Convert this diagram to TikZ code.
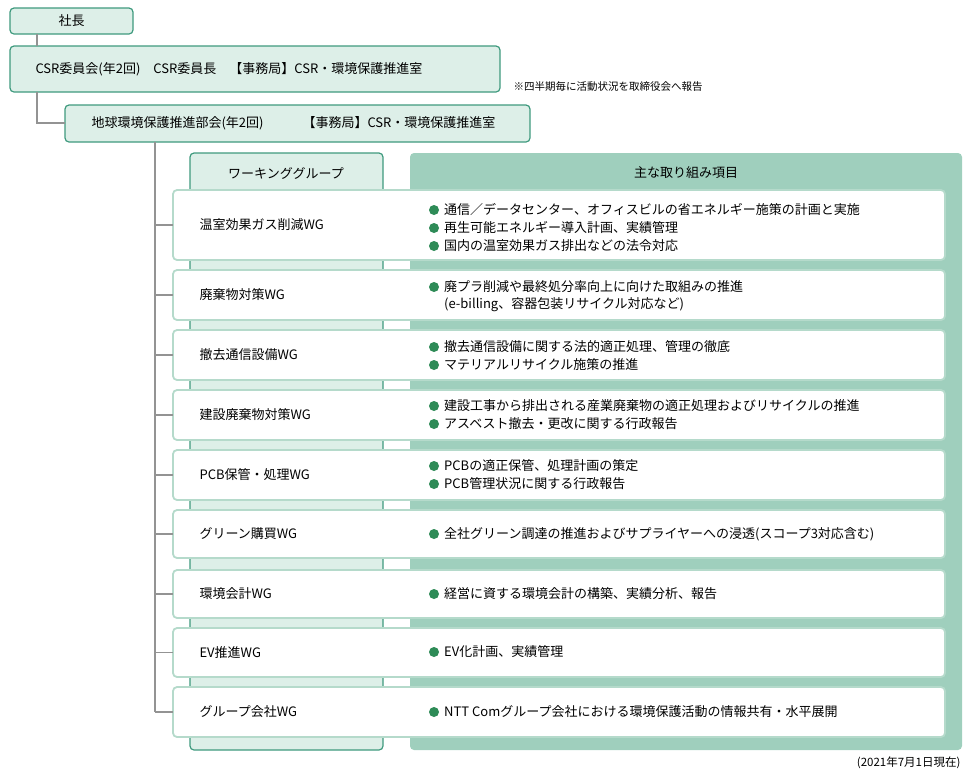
\documentclass[tikz,border=0pt]{standalone}
\usepackage{fontspec}
\setmainfont{Noto Sans CJK JP}
\begin{document}
\begin{tikzpicture}[x=1pt,y=-1pt,
  font=\fontsize{13}{15}\selectfont,
  mint/.style={draw=boxb, fill=mintf, rounded corners=4pt, line width=1.2pt},
  rowbox/.style={draw=rowb, fill=white, rounded corners=4pt, line width=1.8pt},
  conn/.style={draw=gray!85, line width=1.8pt},
  bul/.style={circle, fill=bulc, inner sep=0pt, minimum size=10pt}]
\definecolor{mintf}{HTML}{DDEFE8}
\definecolor{boxb}{HTML}{3F9A7E}
\definecolor{rowb}{HTML}{B5DACB}
\definecolor{panel}{HTML}{9FCFBD}
\definecolor{bulc}{HTML}{2E8B57}
\useasboundingbox (0,0) rectangle (970,780);
\path[mint] (10,8) rectangle (133,34);
\node (pres) at (71.5,21) {社長};
\path[mint] (10,46) rectangle (500,92);
\node[anchor=west] (csr) at (32,69) {CSR委員会(年2回)\quad CSR委員長\quad 【事務局】CSR・環境保護推進室};
\node[anchor=west,font=\fontsize{10.5}{12}\selectfont] (note) at (510,87) {※四半期毎に活動状況を取締役会へ報告};
\path[mint] (65,105) rectangle (530,142);
\node[anchor=west] (env) at (88,123) {地球環境保護推進部会(年2回)\qquad\quad 【事務局】CSR・環境保護推進室};
\draw[conn] (37,34) -- (37,46);
\draw[conn] (37,92) -- (37,123) -- (65,123);
\path[mint] (190,153) rectangle (383,750);
\fill[panel, rounded corners=4pt] (410,153) rectangle (962,750);
\node (wgh) at (286,173) {ワーキンググループ};
\node (ith) at (686,173) {主な取り組み項目};
\draw[conn] (155,142) -- (155,712);
\foreach \t/\b/\lab [count=\i] in {
 190/260/温室効果ガス削減WG,
 270/320/廃棄物対策WG,
 330/380/撤去通信設備WG,
 390/440/建設廃棄物対策WG,
 450/500/PCB保管・処理WG,
 510/558/グリーン購買WG,
 570/618/環境会計WG,
 628/677/EV推進WG,
 687/737/グループ会社WG}
{
 \path[rowbox] (173,\t) rectangle (945,\b);
 \pgfmathsetmacro{\c}{(\t+\b)/2}
 \node[anchor=west] (wg\i) at (196,\c) {\lab};
 \draw[conn] (155,\c) -- (173,\c);
}
\foreach \y/\txt [count=\k] in {
 210/通信／データセンター、オフィスビルの省エネルギー施策の計画と実施,
 228/再生可能エネルギー導入計画、実績管理,
 246/国内の温室効果ガス排出などの法令対応,
 287/廃プラ削減や最終処分率向上に向けた取組みの推進,
 347/撤去通信設備に関する法的適正処理、管理の徹底,
 365/マテリアルリサイクル施策の推進,
 406/建設工事から排出される産業廃棄物の適正処理およびリサイクルの推進,
 424/アスベスト撤去・更改に関する行政報告,
 466/PCBの適正保管、処理計画の策定,
 484/PCB管理状況に関する行政報告,
 534/全社グリーン調達の推進およびサプライヤーへの浸透(スコープ3対応含む),
 594/経営に資する環境会計の構築、実績分析、報告,
 652/EV化計画、実績管理,
 712/NTT Comグループ会社における環境保護活動の情報共有・水平展開}
{
 \node[bul] (b\k) at (434,\y) {};
 \node[anchor=west,inner sep=0pt] (t\k) at (444,\y) {\txt};
}
\node[anchor=west,inner sep=0pt] (t2b) at (444,305) {(e-billing、容器包装リサイクル対応など)};
\node[anchor=east,font=\fontsize{11.5}{13}\selectfont] (date) at (964,763) {(2021年7月1日現在)};
\end{tikzpicture}
\end{document}
